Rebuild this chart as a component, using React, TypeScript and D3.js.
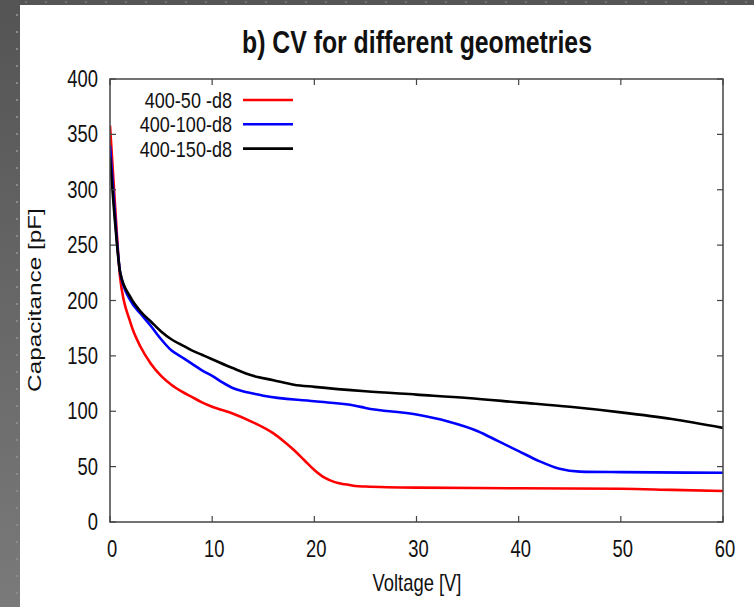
import React from "react";
import * as d3 from "d3";

const WIDTH = 754;
const HEIGHT = 607;

const voltage50 = [0, 0.5, 1, 2, 3, 4, 5, 6, 7, 8, 9, 10, 12, 14, 16, 17, 18, 19, 20, 21, 22, 23, 24, 25, 30, 40, 50, 55, 60];
const cap50 = [358, 285, 220, 180, 158, 143, 132, 124, 118, 113, 108, 104, 98, 90, 80, 73, 65, 56, 47, 40, 36, 34, 32.5, 32, 31, 30.5, 30, 29, 28];

const voltage100 = [0, 0.5, 1, 2, 3, 4, 5, 6, 7, 8, 9, 10, 11, 12, 13, 14, 15, 20, 24, 25, 30, 33, 36, 38, 40, 42, 44, 46, 50, 60];
const cap100 = [340, 275, 225, 200, 188, 177, 165, 155, 149, 143, 137, 132, 126, 121, 118, 116, 114, 109, 105, 103, 97, 91, 82, 73, 64, 55, 48, 45.5, 45, 44.5];

const voltage150 = [0, 0.5, 1, 2, 3, 4, 5, 6, 7, 8, 9, 10, 12, 14, 16, 18, 20, 25, 30, 35, 40, 45, 50, 55, 60];
const cap150 = [330, 270, 225, 203, 190, 181, 172, 165, 160, 155, 151, 147, 139, 132, 128, 124, 122, 118, 115, 112, 108, 104, 99, 93, 85];

const seriesNames = ["400-50 -d8", "400-100-d8", "400-150-d8"];
const seriesColors = ["#ff0000", "#0000ff", "#000000"];

const xTicks = [0, 10, 20, 30, 40, 50, 60];
const yTicks = [0, 50, 100, 150, 200, 250, 300, 350, 400];

const title = "b) CV for different geometries";
const xLabel = "Voltage [V]";
const yLabel = "Capacitance [pF]";

const plot = { left: 110, right: 723, top: 79, bottom: 522 };
const FONT = "'Liberation Sans', Arial, sans-serif";
const SX = 0.8;

function NarrowText({ x, y, children, anchor = "start", size = 22, weight = "normal", sx = SX, rotate = 0 }: any) {
  return (
    <text
      transform={`translate(${x},${y}) rotate(${rotate}) scale(${sx},1)`}
      textAnchor={anchor}
      fontFamily={FONT}
      fontSize={size}
      fontWeight={weight}
      fill="#111"
    >
      {children}
    </text>
  );
}

export default function App() {
  const x = d3.scaleLinear().domain([0, 60]).range([plot.left, plot.right]);
  const y = d3.scaleLinear().domain([0, 400]).range([plot.bottom, plot.top]);

  const series = [
    { v: voltage50, c: cap50 },
    { v: voltage100, c: cap100 },
    { v: voltage150, c: cap150 },
  ];

  const line = d3
    .line<[number, number]>()
    .x((d) => x(d[0]))
    .y((d) => y(d[1]))
    .curve(d3.curveMonotoneX);

  const tickLen = 6;
  const dots = d3.range(0, HEIGHT, 17);
  const topDots = d3.range(25, WIDTH, 20);

  return (
    <svg width={WIDTH} height={HEIGHT} style={{ position: "absolute", left: 0, top: 0, display: "block" }}>
      <defs>
        <linearGradient id="stripGrad" x1="0" y1="0" x2="0" y2="1">
          <stop offset="0" stopColor="#545454" />
          <stop offset="1" stopColor="#7a7a7a" />
        </linearGradient>
        <clipPath id="plotClip">
          <rect x={plot.left} y={plot.top} width={plot.right - plot.left} height={plot.bottom - plot.top} />
        </clipPath>
      </defs>
      <rect x={0} y={0} width={WIDTH} height={HEIGHT} fill="#ffffff" />
      <rect x={0} y={0} width={20} height={HEIGHT} fill="url(#stripGrad)" />
      <rect x={0} y={0} width={WIDTH} height={5} fill="#555555" />
      {dots.map((d) => (
        <rect key={`d${d}`} x={16} y={d + 14} width={2} height={2} fill="#8a8a8a" />
      ))}
      {topDots.map((d) => (
        <rect key={`t${d}`} x={d} y={1} width={2} height={2} fill="#707070" />
      ))}

      <NarrowText x={417} y={53} anchor="middle" size={31} weight="bold" sx={0.8}>
        {title}
      </NarrowText>

      <g clipPath="url(#plotClip)">
        {series.map((s, i) => (
          <path
            key={i}
            d={line(s.v.map((v, j) => [v, s.c[j]] as [number, number])) || ""}
            fill="none"
            stroke={seriesColors[i]}
            strokeWidth={2.6}
            strokeLinejoin="round"
          />
        ))}
      </g>

      {/* frame and mirrored inward ticks */}
      <rect
        x={plot.left}
        y={plot.top}
        width={plot.right - plot.left}
        height={plot.bottom - plot.top}
        fill="none"
        stroke="#444"
        strokeWidth={1.5}
      />
      {xTicks.map((t) => (
        <g key={`xt${t}`}>
          <line x1={x(t)} x2={x(t)} y1={plot.bottom} y2={plot.bottom - tickLen} stroke="#444" strokeWidth={1.2} />
          <line x1={x(t)} x2={x(t)} y1={plot.top} y2={plot.top + tickLen} stroke="#444" strokeWidth={1.2} />
          <NarrowText x={x(t) + 2} y={557} anchor="middle" size={23}>
            {t}
          </NarrowText>
        </g>
      ))}
      {yTicks.map((t) => (
        <g key={`yt${t}`}>
          <line x1={plot.left} x2={plot.left + tickLen} y1={y(t)} y2={y(t)} stroke="#444" strokeWidth={1.2} />
          <line x1={plot.right} x2={plot.right - tickLen} y1={y(t)} y2={y(t)} stroke="#444" strokeWidth={1.2} />
          <NarrowText x={98} y={y(t) + 8} anchor="end" size={23}>
            {t}
          </NarrowText>
        </g>
      ))}

      <NarrowText x={417} y={591} anchor="middle" size={23} sx={0.8}>
        {xLabel}
      </NarrowText>
      <NarrowText x={41} y={300} anchor="middle" size={19} sx={1.28} rotate={-90}>
        {yLabel}
      </NarrowText>

      {seriesNames.map((name, i) => {
        const ly = 100 + i * 24.3;
        return (
          <g key={name}>
            <NarrowText x={232} y={ly + 8} anchor="end" size={22} sx={0.82}>
              {name}
            </NarrowText>
            <line x1={243} x2={293} y1={ly} y2={ly} stroke={seriesColors[i]} strokeWidth={2.6} />
          </g>
        );
      })}
    </svg>
  );
}
